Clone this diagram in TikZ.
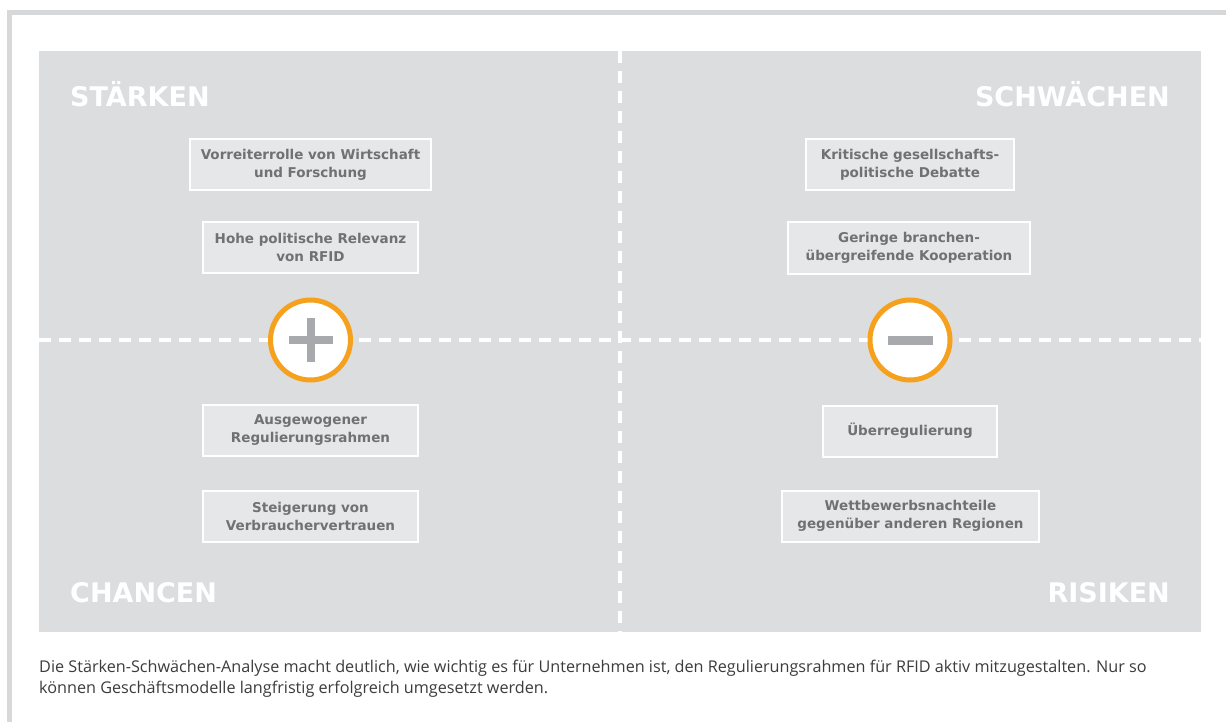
\documentclass[tikz,border=0pt]{standalone}
\usepackage{fontspec}
\setmainfont{Open Sans}
\newfontfamily\titlefont{DejaVu Sans}
\definecolor{panelgray}{HTML}{DCDDDF}
\definecolor{boxgray}{HTML}{E6E7E8}
\definecolor{boxtext}{HTML}{707174}
\definecolor{framegray}{HTML}{D7D8DA}
\definecolor{signgray}{HTML}{A7A9AC}
\definecolor{ringorange}{HTML}{F6A11E}
\definecolor{captiontext}{HTML}{3C3C3C}
\tikzset{
	swotbox/.style = {draw = white, line width = 2pt, fill = boxgray, align = center, inner xsep = 9pt, minimum height = 51pt, text = boxtext, font = \titlefont\bfseries\fontsize{13.5}{18}\selectfont},
	heading/.style = {inner sep = 0pt, text = white, font = \titlefont\bfseries\fontsize{27}{30}\selectfont},
	divider/.style = {draw = white, line width = 4pt, dash pattern = on 12pt off 8pt},
	signring/.style = {circle, draw = ringorange, line width = 5pt, fill = white, minimum size = 80pt},
	caption/.style = {anchor = base west, inner sep = 0pt, text = captiontext, font = \fontsize{16.2}{21}\selectfont}
}
\begin{document}
\begin{tikzpicture}[x = 1pt, y = -1pt]
	\clip (0,0) rectangle (1226,722);
	\fill[white] (0,0) rectangle (1226,722);
	\draw[framegray, line width = 5pt] (9.5,13) rectangle (1260,760);
	\fill[panelgray] (39,51) rectangle (1201,632);
	\draw[divider] (620,51) -- (620,632);
	\draw[divider] (39,340) -- (1201,340);

	\node[heading, anchor = base west] (staerken) at (70,107) {STÄRKEN};
	\node[heading, anchor = base east] (schwaechen) at (1170,107) {SCHWÄCHEN};
	\node[heading, anchor = base west] (chancen) at (70,602) {CHANCEN};
	\node[heading, anchor = base east] (risiken) at (1170,602) {RISIKEN};

	\node[signring] (plus) at (310.5,340) {};
	\fill[signgray] ([xshift = -22pt, yshift = -4pt]plus.center) rectangle ([xshift = 22pt, yshift = 4pt]plus.center);
	\fill[signgray] ([xshift = -4pt, yshift = -22pt]plus.center) rectangle ([xshift = 4pt, yshift = 22pt]plus.center);
	\node[signring] (minus) at (910,340) {};
	\fill[signgray] ([xshift = -22.5pt, yshift = -4.5pt]minus.center) rectangle ([xshift = 22.5pt, yshift = 4.5pt]minus.center);

	\node[swotbox, minimum width = 241pt] (vorreiter) at (310.5,165) {Vorreiterrolle von Wirtschaft\\und Forschung};
	\node[swotbox, minimum width = 215pt] (relevanz) at (310.5,247.5) {Hohe politische Relevanz\\von RFID};
	\node[swotbox, minimum width = 215pt] (rahmen) at (310.5,430.5) {Ausgewogener\\Regulierungsrahmen};
	\node[swotbox, minimum width = 215pt] (vertrauen) at (310.5,516) {Steigerung von\\Verbrauchervertrauen};
	\node[swotbox, minimum width = 208pt] (debatte) at (910,165) {Kritische gesellschafts-\\politische Debatte};
	\node[swotbox, minimum width = 242pt] (kooperation) at (909,248) {Geringe branchen-\\übergreifende Kooperation};
	\node[swotbox, minimum width = 174pt] (regulierung) at (910,431) {Überregulierung};
	\node[swotbox, minimum width = 257pt] (nachteile) at (910.5,516) {Wettbewerbsnachteile\\gegenüber anderen Regionen};

	\node[caption] (caption1) at (39,672.5) {Die Stärken-Schwächen-Analyse macht deutlich, wie wichtig es für Unternehmen ist, den Regulierungsrahmen für RFID aktiv mitzugestalten. Nur so};
	\node[caption] (caption2) at (39,693) {können Geschäftsmodelle langfristig erfolgreich umgesetzt werden.};
\end{tikzpicture}
\end{document}
